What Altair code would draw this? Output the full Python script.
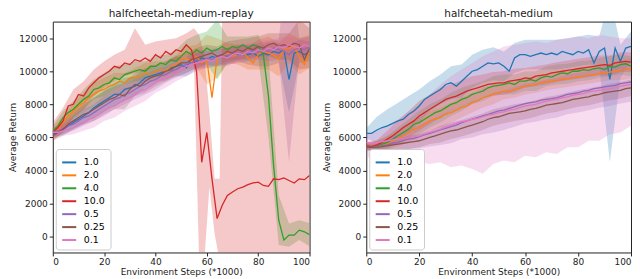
import altair as alt
import pandas as pd

SERIES = ["1.0", "2.0", "4.0", "10.0", "0.5", "0.25", "0.1"]
COLORS = ["#1f77b4", "#ff7f0e", "#2ca02c", "#d62728", "#9467bd", "#8c564b", "#e377c2"]

X = list(range(0, 101, 2))
BX = list(range(0, 101, 4))
Y_TICKS = [0, 2000, 4000, 6000, 8000, 10000, 12000]
X_TICKS = [0, 20, 40, 60, 80, 100]

# ---------------- halfcheetah-medium-replay (left) ----------------
L_BLUE = [6200, 6300, 6500, 6700, 6900, 7100, 7300, 7500, 7800, 8000,
          8200, 8400, 8600, 8600, 8900, 9000, 9100, 9300, 9600, 9700,
          9800, 9900, 10000, 10200, 10300, 10400, 10200, 10700, 10600, 10800,
          10700, 10900, 10800, 11000, 10900, 11000, 11100, 11000, 11000, 11100,
          10900, 11100, 11000, 11200, 11100, 11300, 9500, 11100, 11200, 11000,
          11200]
L_ORANGE = [6300, 6500, 6900, 7300, 7600, 7900, 8100, 8400, 8600, 8800,
            8900, 9100, 9200, 9400, 9300, 9600, 9600, 9700, 9900, 9800,
            10000, 10100, 10000, 10300, 10400, 10700, 10800, 10600, 10900, 10500,
            10700, 8400, 10800, 10900, 11100, 10900, 11000, 11200, 10800, 10500,
            11000, 11200, 11100, 11000, 10700, 11300, 11400, 11500, 10900, 10400,
            11200]
L_GREEN = [6400, 6700, 7200, 7500, 7700, 8000, 8300, 8500, 8900, 9000,
           9200, 9300, 9600, 9500, 9800, 9900, 10000, 10100, 10000, 10300,
           10300, 10500, 10400, 10700, 10600, 10900, 11200, 11000, 11300, 11100,
           11400, 11200, 11300, 11500, 11300, 11500, 11400, 11600, 11400, 11600,
           11500, 11000, 8500, 4300, 1000, -200, 100, 100, 400, 300,
           130]
L_RED = [6300, 6600, 7000, 7900, 8000, 8600, 8500, 9000, 9300, 9600,
         9800, 10000, 10300, 10200, 10500, 10400, 10700, 10600, 10800, 10600,
         11000, 10800, 11200, 11000, 11300, 11200, 11600, 11300, 10000, 4500,
         6300, 3500, 1100, 1900, 2500, 2700, 2900, 3000, 3150, 3250,
         3300, 3100, 3050, 3500, 3450, 3550, 3400, 3250, 3500, 3450,
         3700]
L_PURPLE = [6300, 6400, 6500, 6700, 6800, 7000, 7200, 7300, 7500, 7700,
            7900, 8100, 8300, 8400, 8600, 8700, 8900, 9100, 9200, 9400,
            9500, 9700, 9800, 10000, 10100, 10300, 10400, 10500, 10700, 10600,
            10800, 10700, 10900, 11000, 10900, 11100, 11000, 11200, 11100, 11300,
            11200, 11300, 11200, 11400, 11300, 11200, 11000, 11300, 11400, 11300,
            11500]
L_BROWN = [6100, 6300, 6500, 6800, 7000, 7200, 7400, 7500, 7700, 7900,
           8100, 8300, 8400, 8600, 8500, 8900, 9200, 9100, 9400, 9600,
           9700, 9800, 10000, 10100, 10300, 10500, 10500, 10700, 10800, 10900,
           11000, 11100, 10900, 11000, 11200, 11100, 11300, 11200, 11400, 11300,
           11500, 11400, 11600, 11700, 11500, 11600, 11500, 11700, 11600, 10700,
           11400]
L_PINK = [6300, 6300, 6400, 6500, 6600, 6800, 6900, 7100, 7200, 7400,
          7600, 7800, 7900, 8100, 8300, 8400, 8600, 8800, 8900, 9100,
          9300, 9500, 9600, 9800, 10000, 10100, 10300, 10400, 10500, 10600,
          10700, 10600, 10800, 10900, 10800, 11000, 11100, 11000, 11200, 11100,
          11300, 11200, 11400, 11300, 11500, 11400, 11600, 11500, 11400, 11600,
          11500]

# band half-widths at x = 0, 4, ..., 100
L_BLUE_S = [250, 300, 400, 500, 600, 600, 700, 700, 600, 600, 500, 500, 600,
            500, 500, 500, 500, 500, 500, 600, 600, 700, 600, 2000, 700, 600]
L_ORANGE_S = [300, 400, 500, 600, 700, 700, 700, 600, 600, 600, 600, 600, 600,
              700, 700, 1500, 1200, 600, 600, 700, 900, 1000, 1000, 900, 1100, 1000]
L_GREEN_S = [300, 400, 500, 600, 600, 700, 700, 600, 600, 600, 600, 600, 700,
             700, 900, 1000, 1800, 800, 700, 700, 700, 2500, 1500, 700, 600, 700]
L_PURPLE_S = [300, 300, 400, 500, 500, 600, 600, 600, 600, 600, 600, 500, 500,
              500, 500, 500, 500, 500, 500, 500, 500, 600, 600, 6500, 600, 600]
L_BROWN_S = [300, 400, 500, 600, 700, 700, 700, 800, 700, 700, 600, 600, 600,
             600, 600, 600, 600, 600, 600, 600, 600, 700, 800, 800, 1500, 1200]
L_PINK_S = [300, 300, 400, 500, 600, 600, 700, 700, 700, 700, 600, 600, 600,
            600, 500, 500, 500, 500, 500, 500, 500, 500, 500, 500, 500, 500]
# red band read directly (lower / upper edges)
L_RED_BX = [0, 4, 8, 12, 16, 20, 24, 28, 32, 36, 40, 44, 48, 52,
            55, 57, 59, 61, 63, 65, 66, 70, 75, 80, 85, 90, 95, 100]
L_RED_LO = [5800, 6300, 7200, 7700, 8500, 9000, 9400, 9700, 9900, 10000, 10300, 10500, 10600, 10900,
            10300, -1500, -1500, 3000, 200, -1500, -1500, -1500, -1500, -1500, -1500, -1500, -1500, -1500]
L_RED_HI = [6900, 7800, 8900, 9400, 10100, 10600, 11000, 11300, 12600, 11600, 11800, 11900, 12000, 12300,
            12600, 12200, 11000, 7500, 3500, 3500, 13500, 13500, 13500, 13500, 13500, 13500, 13500, 13500]

# ---------------- halfcheetah-medium (right) ----------------
R_BLUE = [6250, 6250, 6450, 6600, 6700, 6850, 7000, 7100, 7400, 7600,
          7900, 8300, 8500, 8700, 8900, 9200, 9300, 9100, 9400, 9700,
          10000, 10100, 10300, 10500, 10450, 10500, 10300, 10000, 10800, 11000,
          11000, 10900, 11000, 11100, 11000, 11100, 11000, 11200, 11100, 11000,
          11200, 11100, 11300, 10500, 11200, 11400, 9500, 11400, 10600, 11400,
          11500]
R_ORANGE = [5450, 5400, 5500, 5550, 5650, 5800, 5950, 6100, 6300, 6500,
            6600, 6800, 7000, 7100, 7200, 7400, 7500, 7650, 7800, 7900,
            8100, 8200, 8400, 8500, 8600, 8700, 8800, 8750, 8900, 9000,
            9100, 9150, 9200, 9300, 9350, 9400, 9450, 9500, 9550, 9600,
            9650, 9700, 9750, 9800, 9850, 9900, 9950, 10000, 10050, 10100,
            10150]
R_GREEN = [5450, 5450, 5500, 5600, 5700, 5900, 6100, 6300, 6500, 6800,
           6900, 7100, 7300, 7500, 7600, 7800, 8000, 8100, 8300, 8400,
           8600, 8700, 8800, 9000, 9100, 9150, 9200, 9300, 9200, 9400,
           9400, 9500, 9400, 9600, 9700, 9650, 9800, 9900, 9850, 10000,
           10000, 10100, 10050, 10150, 10200, 10100, 10300, 10250, 10400, 10450,
           10300]
R_RED = [5500, 5450, 5550, 5700, 5900, 6100, 6350, 6600, 6800, 7000,
         7300, 7500, 7700, 7900, 8100, 8300, 8400, 8500, 8650, 8800,
         8900, 9000, 9100, 9200, 9250, 9300, 9300, 9400, 9450, 9500,
         9600, 9550, 9700, 9750, 9800, 9900, 9950, 10000, 10050, 10100,
         10150, 10200, 10250, 10300, 10350, 10400, 10350, 10500, 10550, 10600,
         10550]
R_PURPLE = [5400, 5400, 5450, 5500, 5550, 5650, 5700, 5800, 5900, 5950,
            6050, 6150, 6250, 6350, 6450, 6550, 6650, 6750, 6900, 7000,
            7100, 7200, 7300, 7400, 7500, 7600, 7650, 7750, 7850, 7950,
            8050, 8100, 8150, 8250, 8300, 8350, 8400, 8500, 8600, 8650,
            8700, 8800, 8850, 8950, 9000, 9050, 9100, 9150, 9250, 9300,
            9350]
R_BROWN = [5400, 5400, 5420, 5450, 5500, 5550, 5600, 5650, 5700, 5750,
           5800, 5900, 6000, 6100, 6200, 6300, 6400, 6450, 6550, 6650,
           6750, 6850, 6950, 7100, 7200, 7250, 7350, 7450, 7500, 7550,
           7600, 7700, 7750, 7850, 7950, 8000, 8050, 8100, 8200, 8300,
           8350, 8400, 8450, 8550, 8600, 8700, 8750, 8800, 8850, 8950,
           9000]
R_PINK = [5700, 5650, 5700, 5750, 5800, 5850, 5900, 5950, 6000, 6050,
          6100, 6200, 6300, 6400, 6500, 6650, 6750, 6850, 6950, 7000,
          7100, 7150, 7250, 7350, 7400, 7500, 7550, 7650, 7700, 7800,
          7900, 7950, 8000, 8100, 8200, 8250, 8300, 8400, 8450, 8550,
          8600, 8650, 8750, 8800, 8850, 8900, 8950, 9000, 9100, 9150,
          9200]

R_BLUE_S = [300, 800, 1000, 1100, 1100, 1000, 900, 900, 1000, 1000, 1000, 1000, 1000,
            900, 900, 900, 900, 900, 900, 900, 900, 900, 900, 5000, 1000, 900]
R_ORANGE_S = [200, 300, 400, 500, 600, 600, 600, 600, 600, 600, 600, 600, 600,
              500, 500, 500, 500, 500, 500, 500, 500, 500, 500, 500, 600, 600]
R_GREEN_S = [200, 300, 400, 500, 600, 700, 700, 700, 700, 700, 600, 600, 600,
             600, 600, 600, 600, 600, 600, 600, 600, 600, 600, 600, 600, 600]
R_RED_S = [200, 300, 500, 700, 800, 900, 900, 900, 800, 800, 800, 700, 700,
           700, 700, 600, 600, 600, 600, 600, 600, 600, 600, 600, 600, 600]
R_PURPLE_S = [200, 300, 400, 500, 600, 700, 800, 900, 1000, 1000, 1100, 1100, 1200,
              1200, 1200, 1200, 1200, 1200, 1200, 1200, 1200, 1200, 1200, 1200, 1200, 1200]
R_BROWN_S = [200, 200, 300, 300, 400, 400, 400, 500, 500, 500, 500, 500, 500,
             500, 500, 500, 500, 500, 500, 500, 500, 500, 500, 500, 500, 500]
R_PINK_LO = [4900, 4500, 4600, 4300, 4600, 4500, 4400, 4500, 4200, 4300, 4100, 3800, 4400,
             4600, 4500, 4900, 4800, 5100, 5000, 5400, 5400, 5800, 5800, 6200, 6300, 6700]
R_PINK_HI = [6200, 6400, 6700, 7100, 7500, 8000, 8600, 9200, 9700, 10100, 10500, 10900, 11200,
             11500, 11600, 11700, 11800, 11700, 11900, 12000, 12100, 12000, 12200, 12100, 12000, 12000]

COLOR_OF = dict(zip(SERIES, COLORS))


def line_df(lines):
    rows = []
    for name, ys in lines.items():
        for x, y in zip(X, ys):
            rows.append({"series": name, "x": x, "y": y})
    return pd.DataFrame(rows)


def band_df(lines, spreads, explicit):
    rows = []
    for name, s in spreads.items():
        lookup = dict(zip(X, lines[name]))
        for bx, h in zip(BX, s):
            rows.append({"series": name, "x": bx, "lo": lookup[bx] - h, "hi": lookup[bx] + h})
    for name, (bxs, los, his) in explicit.items():
        for bx, lo, hi in zip(bxs, los, his):
            rows.append({"series": name, "x": bx, "lo": lo, "hi": hi})
    df = pd.DataFrame(rows)
    df["shade"] = df["series"].map(COLOR_OF)
    return df


left_lines = {"1.0": L_BLUE, "2.0": L_ORANGE, "4.0": L_GREEN, "10.0": L_RED,
              "0.5": L_PURPLE, "0.25": L_BROWN, "0.1": L_PINK}
left_bands = band_df(left_lines,
                     {"1.0": L_BLUE_S, "2.0": L_ORANGE_S, "4.0": L_GREEN_S,
                      "0.5": L_PURPLE_S, "0.25": L_BROWN_S, "0.1": L_PINK_S},
                     {"10.0": (L_RED_BX, L_RED_LO, L_RED_HI)})
right_lines = {"1.0": R_BLUE, "2.0": R_ORANGE, "4.0": R_GREEN, "10.0": R_RED,
               "0.5": R_PURPLE, "0.25": R_BROWN, "0.1": R_PINK}
right_bands = band_df(right_lines,
                      {"1.0": R_BLUE_S, "2.0": R_ORANGE_S, "4.0": R_GREEN_S, "10.0": R_RED_S,
                       "0.5": R_PURPLE_S, "0.25": R_BROWN_S},
                      {"0.1": (BX, R_PINK_LO, R_PINK_HI)})

FONT = "DejaVu Sans"
H = 232


def panel(title, ldf, bdf, width):
    xs = alt.Scale(domain=[0, 100], nice=False)
    ys = alt.Scale(domain=[-950, 13000], nice=False, zero=False)
    xa = alt.Axis(values=X_TICKS, title="Environment Steps (*1000)")
    ya = alt.Axis(values=Y_TICKS, format="d", title="Average Return")
    band = alt.Chart(bdf).mark_area(opacity=0.25, clip=True).encode(
        x=alt.X("x:Q", scale=xs, axis=xa),
        y=alt.Y("lo:Q", scale=ys, axis=ya),
        y2="hi:Q",
        fill=alt.Fill("shade:N", scale=None),
        detail="series:N",
    )
    line = alt.Chart(ldf).mark_line(strokeWidth=1.3, clip=True).encode(
        x=alt.X("x:Q", scale=xs, axis=xa),
        y=alt.Y("y:Q", scale=ys, axis=ya),
        color=alt.Color("series:N", scale=alt.Scale(domain=SERIES, range=COLORS),
                        legend=alt.Legend(orient="bottom-left", offset=3,
                                          symbolType="stroke", symbolSize=200,
                                          symbolStrokeWidth=2, labelFontSize=9.5,
                                          labelFont=FONT, labelOffset=6, padding=5,
                                          rowPadding=0, fillColor="white",
                                          strokeColor="#cccccc", cornerRadius=3)),
    )
    return alt.layer(band, line).properties(width=width, height=H, title=title)


left = panel("halfcheetah-medium-replay", line_df(left_lines), left_bands, 258)
right = panel("halfcheetah-medium", line_df(right_lines), right_bands, 266)

chart = alt.hconcat(left, right, spacing=11).resolve_scale(
    color="independent"
).resolve_legend(color="independent").properties(padding=0).configure_view(
    stroke="#222222", strokeWidth=1
).configure_axis(
    grid=False, domain=False, labelFont=FONT, titleFont=FONT, labelFontSize=9,
    titleFontSize=9, titleFontWeight="normal", tickSize=3.5, tickColor="#222222",
    labelColor="#222222", titleColor="#222222", labelPadding=2, titlePadding=1
).configure_legend(
    title=None
).configure_title(
    font=FONT, fontSize=10.5, fontWeight="normal", offset=2, color="#222222"
)

chart.save("out.html", embed_options={"renderer": "svg", "actions": False})
